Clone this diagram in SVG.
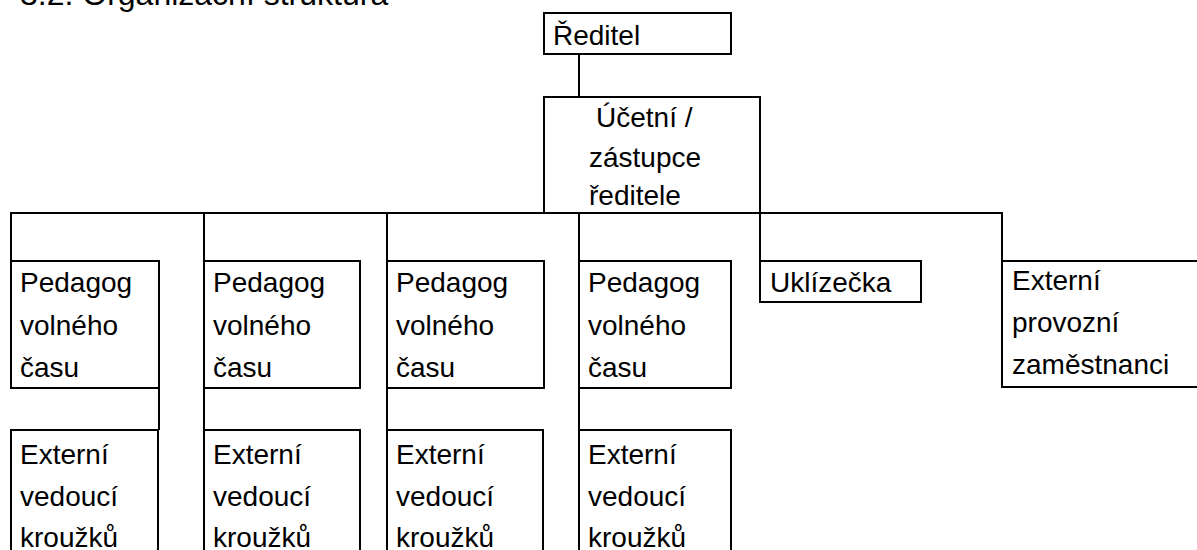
<svg xmlns="http://www.w3.org/2000/svg" width="1197" height="550" viewBox="0 0 1197 550">
<style>
.box{fill:#fff;stroke:#000;stroke-width:2}
.ln{stroke:#000;stroke-width:2;fill:none}
text{font-family:"Liberation Sans",Arial,sans-serif;font-size:28px;fill:#000}
</style>
<rect width="1197" height="550" fill="#fff"/>
<text id="heading" x="20" y="5" style="font-size:32px">3.2. Organizační struktura</text>
<g id="connectors">
<line class="ln" x1="579" y1="54" x2="579" y2="97"/>
<line class="ln" x1="10" y1="213" x2="1003" y2="213"/>
<line class="ln" x1="11" y1="213" x2="11" y2="261"/>
<line class="ln" x1="204" y1="213" x2="204" y2="261"/>
<line class="ln" x1="387" y1="213" x2="387" y2="261"/>
<line class="ln" x1="579" y1="213" x2="579" y2="261"/>
<line class="ln" x1="760" y1="213" x2="760" y2="261"/>
<line class="ln" x1="1002" y1="213" x2="1002" y2="261"/>
<line class="ln" x1="159" y1="388" x2="159" y2="430"/>
<line class="ln" x1="204" y1="388" x2="204" y2="430"/>
<line class="ln" x1="387" y1="388" x2="387" y2="430"/>
<line class="ln" x1="579" y1="388" x2="579" y2="430"/>
</g>
<g id="reditel">
<rect class="box" x="544" y="13" width="187" height="41"/>
<text x="553" y="45">Ředitel</text>
</g>
<g id="ucetni">
<rect class="box" x="544" y="97" width="216" height="116"/>
<text x="596" y="127">Účetní /</text>
<text x="589" y="167">zástupce</text>
<text x="589" y="205">ředitele</text>
</g>
<g id="pedagog1">
<rect class="box" x="11" y="261" width="148" height="127"/>
<text x="20" y="292">Pedagog</text><text x="20" y="334.5">volného</text><text x="20" y="377">času</text>
</g>
<g id="pedagog2">
<rect class="box" x="204" y="261" width="156" height="127"/>
<text x="213" y="292">Pedagog</text><text x="213" y="334.5">volného</text><text x="213" y="377">času</text>
</g>
<g id="pedagog3">
<rect class="box" x="387" y="261" width="157" height="127"/>
<text x="396" y="292">Pedagog</text><text x="396" y="334.5">volného</text><text x="396" y="377">času</text>
</g>
<g id="pedagog4">
<rect class="box" x="579" y="261" width="152" height="127"/>
<text x="588" y="292">Pedagog</text><text x="588" y="334.5">volného</text><text x="588" y="377">času</text>
</g>
<g id="uklizecka">
<rect class="box" x="760" y="261" width="161" height="41"/>
<text x="770" y="292">Uklízečka</text>
</g>
<g id="externi-provozni">
<rect class="box" x="1002" y="261" width="200" height="126"/>
<text x="1012" y="290">Externí</text><text x="1012" y="332">provozní</text><text x="1012" y="374">zaměstnanci</text>
</g>
<g id="externi1">
<rect class="box" x="11" y="430" width="147" height="130"/>
<text x="20" y="464">Externí</text><text x="20" y="505.5">vedoucí</text><text x="20" y="547">kroužků</text>
</g>
<g id="externi2">
<rect class="box" x="204" y="430" width="156" height="130"/>
<text x="213" y="464">Externí</text><text x="213" y="505.5">vedoucí</text><text x="213" y="547">kroužků</text>
</g>
<g id="externi3">
<rect class="box" x="387" y="430" width="156" height="130"/>
<text x="396" y="464">Externí</text><text x="396" y="505.5">vedoucí</text><text x="396" y="547">kroužků</text>
</g>
<g id="externi4">
<rect class="box" x="579" y="430" width="152" height="130"/>
<text x="588" y="464">Externí</text><text x="588" y="505.5">vedoucí</text><text x="588" y="547">kroužků</text>
</g>
</svg>
